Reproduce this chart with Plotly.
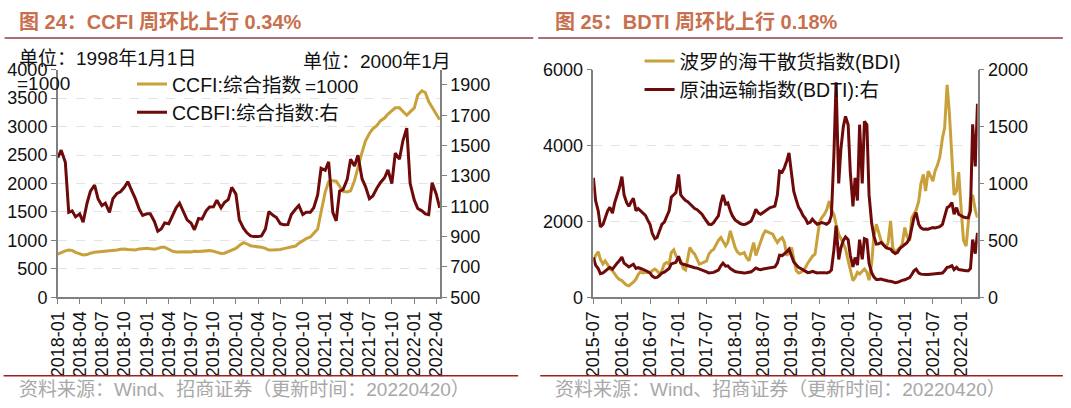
import pandas as pd
import plotly.graph_objects as go

# semi-monthly points (1st and 15th)
dates_ccfi = pd.date_range("2018-01-01", "2022-04-15", freq="SMS")
dates_bdi = pd.date_range("2015-07-01", "2022-04-15", freq="SMS")

ccfi = [
    # 2018
    760, 790, 815, 830, 825, 790, 760, 745, 750, 775, 790, 795,
    810, 815, 820, 815, 830, 845, 850, 840, 830, 830, 850, 860,
    # 2019
    860, 855, 845, 860, 880, 880, 840, 810, 795, 800, 795, 800,
    795, 810, 805, 810, 815, 820, 810, 790, 770, 775, 800, 830,
    # 2020
    860, 910, 960, 940, 905, 895, 890, 880, 860, 830, 830, 830,
    840, 855, 870, 875, 900, 950, 1000, 1030, 1060, 1120, 1200, 1500,
    # 2021
    1850, 2030, 2050, 2040, 1950, 1860, 1850, 1870, 2050, 2300, 2550, 2750,
    2880, 2960, 3020, 3100, 3150, 3220, 3280, 3330, 3330, 3260, 3200, 3260,
    # 2022
    3330, 3550, 3630, 3600, 3440, 3340, 3230, 3120,
]

ccbfi = [
    # 2018
    1420, 1470, 1390, 1060, 1070, 1030, 1050, 995, 1120, 1200, 1240, 1150,
    1105, 1120, 1060, 1150, 1185, 1195, 1225, 1262, 1200, 1150, 1080, 1040,
    # 2019
    1050, 1050, 1000, 935, 950, 990, 985, 1030, 1090, 1120, 1060, 1010,
    990, 945, 1020, 1015, 1070, 1095, 1096, 1140, 1090, 1125, 1145, 1225,
    # 2020
    1180, 1010, 955, 925, 905, 900, 900, 905, 950, 1065, 1040, 1026,
    985, 978, 980, 1045, 1080, 1105, 1045, 1060, 1060, 1090, 1175, 1350,
    # 2021
    1337, 1393, 1060, 1004, 1200, 1210, 1277, 1410, 1365, 1437, 1280, 1230,
    1150, 1168, 1220, 1255, 1288, 1340, 1250, 1450, 1410, 1530, 1615, 1250,
    # 2022
    1140, 1085, 1070, 1050, 1045, 1255, 1180, 1090,
]

bdi = [
    # 2015 H2
    963, 1100, 1200, 1000, 880, 960, 860, 750, 700, 600, 525, 470,
    # 2016
    440, 380, 320, 300, 350, 400, 480, 600, 680, 640, 656, 660,
    656, 700, 744, 700, 613, 700, 880, 919, 875, 1180, 1250, 1094,
    # 2017
    1000, 963, 760, 720, 1000, 1313, 1200, 1138, 1000, 875, 900, 919,
    960, 1138, 1225, 1260, 1400, 1500, 1575, 1480, 1356, 1450, 1750, 1550,
    # 2018
    1313, 1200, 1138, 1150, 1181, 1050, 963, 1200, 1444, 1100, 1300, 1500,
    1650, 1750, 1720, 1700, 1663, 1550, 1444, 1520, 1575, 1450, 1094, 1200,
    # 2019
    1313, 1000, 700, 640, 656, 700, 790, 900, 1006, 1080, 1138, 1500,
    2000, 2100, 2188, 2300, 2538, 2300, 2188, 1925, 1663, 1550, 1400, 1280,
    # 2020
    963, 700, 440, 520, 656, 613, 700, 744, 656, 450, 900, 1600,
    1925, 1700, 1488, 1400, 1313, 1444, 2013, 1313, 1181, 1250, 1313, 1400,
    # 2021
    1838, 1600, 1488, 2100, 2188, 2300, 2538, 3000, 3238, 2800, 3326, 3200,
    3063, 3326, 3500, 3700, 4201, 4464, 5600, 4900, 3600, 2700, 2800, 3300,
    # 2022
    2250, 1500, 1350, 1950, 2600, 2700, 2300, 2100,
]

bdti = [
    # 2015 H2
    1050, 850, 760, 620, 640, 690, 760, 790, 740, 830, 900, 960,
    # 2016
    1060, 900, 830, 800, 840, 870, 760, 780, 760, 740, 720, 680,
    640, 560, 515, 525, 580, 640, 660, 700, 760, 880, 900, 920,
    # 2017
    1080, 900, 870, 850, 840, 820, 800, 780, 770, 750, 730, 700,
    670, 642, 640, 656, 690, 715, 830, 900, 820, 830, 760, 715,
    # 2018
    680, 665, 650, 642, 640, 645, 660, 671, 720, 773, 740, 729,
    745, 758, 770, 788, 795, 802, 900, 1109, 1100, 1138, 1200, 1269,
    # 2019
    1080, 930, 850, 790, 760, 720, 690, 650, 660, 686, 660, 642,
    650, 656, 650, 642, 660, 720, 1250, 1890, 1000, 1300, 1500, 1590,
    # 2020
    1517, 1100, 800, 1050, 850, 1517, 1000, 1546, 1517, 900, 650, 540,
    467, 470, 482, 460, 438, 430, 423, 400, 385, 395, 430, 445,
    # 2021
    460, 480, 520, 600, 700, 744, 640, 610, 598, 600, 598, 605,
    613, 610, 613, 620, 640, 700, 788, 800, 832, 729, 788, 730,
    # 2022
    715, 705, 700, 700, 760, 1520, 1150, 1700,
]

GOLD = "#C9A13B"
DARK = "#6E0A0A"
FONT = "Liberation Sans, Arial, Noto Sans CJK SC"
W, H = 1071, 408


# page pixel -> paper fraction (small correction for how the page ends up framed)
def X(v):
    return (v - 13.4) / 0.982 / W


def Y(v):
    return 1 - (v - 7.9) / 0.957 / H


fig = go.Figure()

# left chart
fig.add_trace(go.Scatter(x=dates_ccfi, y=ccfi, name="CCFI:综合指数", mode="lines",
                         line=dict(color=GOLD, width=3), xaxis="x", yaxis="y", legend="legend"))
fig.add_trace(go.Scatter(x=dates_ccfi, y=ccbfi, name="CCBFI:综合指数:右", mode="lines",
                         line=dict(color=DARK, width=3), xaxis="x", yaxis="y2", legend="legend"))

# right chart
fig.add_trace(go.Scatter(x=dates_bdi, y=bdi, name="波罗的海干散货指数(BDI)", mode="lines",
                         line=dict(color=GOLD, width=3), xaxis="x2", yaxis="y3", legend="legend2"))
fig.add_trace(go.Scatter(x=dates_bdi, y=bdti, name="原油运输指数(BDTI):右", mode="lines",
                         line=dict(color=DARK, width=3), xaxis="x2", yaxis="y4", legend="legend2"))
fig.add_trace(go.Scatter(x=dates_bdi, y=bdti, name="BDTI", mode="lines", showlegend=False,
                         line=dict(color=DARK, width=3), xaxis="x2", yaxis="y3"))

axis_common = dict(showline=True, linecolor="#808080", linewidth=1.5, ticks="outside",
                   ticklen=5, tickcolor="#808080", tickfont=dict(size=18, color="#111", family=FONT),
                   zeroline=False)

fig.update_layout(
    autosize=True,
    margin=dict(l=0, r=0, t=0, b=0),
    paper_bgcolor="white", plot_bgcolor="white",
    font=dict(family=FONT, size=18, color="#111"),
    xaxis=dict(domain=[X(61), X(442)], anchor="y", type="date",
               range=["2018-01-01", "2022-04-16"], tick0="2018-01-01", dtick="M3",
               tickformat="%Y-%m", tickangle=-90, showgrid=False, **axis_common),
    yaxis=dict(domain=[Y(297), Y(68)], anchor="x", range=[0, 4000], dtick=500,
               showgrid=True, gridcolor="#E3E3E3", griddash="dash", gridwidth=1, **axis_common),
    yaxis2=dict(domain=[Y(297), Y(68)], anchor="x", overlaying="y", side="right",
                range=[500, 2000], tickvals=[500, 700, 900, 1100, 1300, 1500, 1700, 1900],
                showgrid=False, **axis_common),
    xaxis2=dict(domain=[X(595), X(978)], anchor="y3", type="date",
                range=["2015-07-01", "2022-04-16"], tick0="2015-07-01", dtick="M6",
                tickformat="%Y-%m", tickangle=-90, showgrid=False, **axis_common),
    yaxis3=dict(domain=[Y(297), Y(68)], anchor="x2", range=[0, 6000], dtick=2000,
                showgrid=True, gridcolor="#E3E3E3", griddash="dash", gridwidth=1, **axis_common),
    yaxis4=dict(domain=[Y(297), Y(68)], anchor="x2", overlaying="y3", side="right",
                range=[0, 2000], dtick=500, showgrid=False, **axis_common),
    legend=dict(x=X(135), y=Y(63), xanchor="left", yanchor="top",
                bgcolor="rgba(0,0,0,0)", font=dict(size=19.5, family=FONT, color="#111"),
                tracegroupgap=0),
    legend2=dict(x=X(641), y=Y(40), xanchor="left", yanchor="top",
                 bgcolor="rgba(0,0,0,0)", font=dict(size=19.5, family=FONT, color="#111"),
                 tracegroupgap=0),
    showlegend=True,
)

# titles, rules and source notes
titles = [(20, "图 24：CCFI 周环比上行 0.34%"), (555, "图 25：BDTI 周环比上行 0.18%")]
for x0, txt in titles:
    fig.add_annotation(x=X(x0), y=Y(20), xref="paper", yref="paper", xanchor="left",
                       yanchor="middle", showarrow=False, text="<b>" + txt + "</b>",
                       font=dict(size=20, color="#C8704E", family=FONT))
    fig.add_annotation(x=X(x0), y=Y(390), xref="paper", yref="paper", xanchor="left",
                       yanchor="middle", showarrow=False,
                       text="资料来源：Wind、招商证券（更新时间：20220420）",
                       font=dict(size=19, color="#A8A8A8", family=FONT))

for a, b in [(8, 535), (540, 1063)]:
    fig.add_shape(type="line", xref="paper", yref="paper", x0=X(a), x1=X(b),
                  y0=Y(36), y1=Y(36), line=dict(color="#8E3C44", width=1.5))
for a, b in [(7, 520), (542, 1063)]:
    fig.add_shape(type="line", xref="paper", yref="paper", x0=X(a), x1=X(b),
                  y0=Y(376), y1=Y(376), line=dict(color="#A01E1E", width=1.5))

# unit notes on the left chart
notes = [(20, 57, "单位：1998年1月1日"), (18, 82, "=1000"), (303, 60, "单位：2000年1月"),
         (305, 85, "=1000")]
for x0, y0, txt in notes:
    fig.add_annotation(x=X(x0), y=Y(y0), xref="paper", yref="paper", xanchor="left",
                       yanchor="middle", showarrow=False, text=txt,
                       font=dict(size=19, color="#111", family=FONT))

# fill the window exactly; no page margin, no toolbar
fig.write_html("out.html", default_width="100vw", default_height="100vh",
               config={"displayModeBar": False},
               post_script="document.body.style.margin='0';document.body.style.overflow='hidden';")
